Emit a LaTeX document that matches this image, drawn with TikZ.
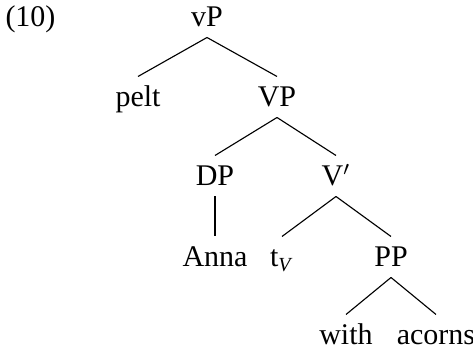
\documentclass[tikz,border=0pt]{standalone}
\usepackage{fontspec}
\setmainfont{Liberation Serif}
\begin{document}
\begin{tikzpicture}[x=0.4pt, y=-0.4pt,
  lbl/.style={font=\fontsize{12}{14}\selectfont, anchor=base,
              text height=8pt, text depth=0pt, inner xsep=0pt, inner ysep=4pt},
  branch/.style={draw, line width=0.45pt}]
  \useasboundingbox (0,0) rectangle (473,350);
  % example number
  \node[lbl, anchor=base west] (ex) at (5,27) {(10)};
  % tree nodes, one row per level
  \node[lbl] (vP)     at (207,27)  {vP};
  \node[lbl] (pelt)   at (138,107) {pelt};
  \node[lbl] (VP)     at (277,107) {VP};
  \node[lbl] (DP)     at (215,186) {DP};
  \node[lbl] (Vbar)   at (336,186) {V$'$};
  \node[lbl] (Anna)   at (215,267) {Anna};
  \node[lbl] (tV)     at (282,267) {t\textsubscript{\textit{V}}};
  \node[lbl] (PP)     at (391,267) {PP};
  \node[lbl] (with)   at (346,345) {with};
  \node[lbl] (acorns) at (436,345) {acorns};
  % branches
  \path[branch] (vP.south) -- (pelt.north);
  \path[branch] (vP.south) -- (VP.north);
  \path[branch] (VP.south) -- (DP.north);
  \path[branch] (VP.south) -- (Vbar.north);
  \path[branch] (DP.south) -- (Anna.north);
  \path[branch] (Vbar.south) -- (tV.north);
  \path[branch] (Vbar.south) -- (PP.north);
  \path[branch] (PP.south) -- (with.north);
  \path[branch] (PP.south) -- (acorns.north);
\end{tikzpicture}
\end{document}
